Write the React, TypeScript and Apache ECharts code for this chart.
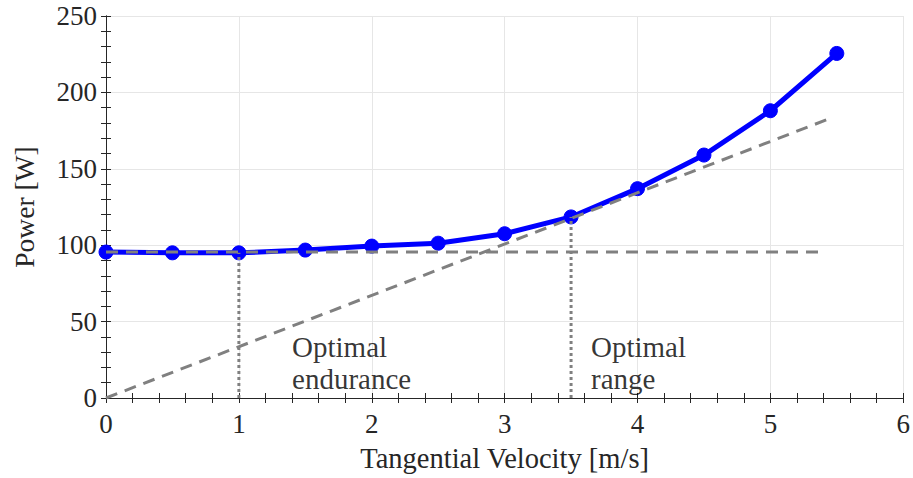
import React, { useEffect, useRef } from "react";
import * as echarts from "echarts";

const velocity = [0, 0.5, 1, 1.5, 2, 2.5, 3, 3.5, 4, 4.5, 5, 5.5];
const power = [95.5, 95, 95, 96.8, 99.4, 101.3, 107.5, 118.5, 137, 159, 188, 225.5];
const hoverLine = [[0, 95.5], [5.4, 95.5]];
const tangentLine = [[0, 0], [5.45, 183]];
const enduranceLine = [[1, 0], [1, 95]];
const rangeLine = [[3.5, 0], [3.5, 118.5]];
const annotations = [
  { pos: [1.4, 23], text: "Optimal\nendurance" },
  { pos: [3.65, 23], text: "Optimal\nrange" },
];

const FONT = "Liberation Serif";
const AXIS_COLOR = "#262626";

export default function App() {
  const ref = useRef<HTMLDivElement>(null);
  useEffect(() => {
    const chart = echarts.init(ref.current!, null, { renderer: "svg" });
    const axisCommon = {
      axisLine: { show: true, lineStyle: { color: AXIS_COLOR, width: 1 } },
      axisTick: { show: true, inside: true, length: 5, lineStyle: { color: AXIS_COLOR } },
      minorTick: { show: true, splitNumber: 5, length: 5, lineStyle: { color: AXIS_COLOR } },
    };
    chart.setOption({
      animation: false,
      backgroundColor: "#ffffff",
      grid: { left: 106, right: 9, top: 16, bottom: 77, containLabel: false },
      xAxis: [
        {
          type: "value",
          min: 0,
          max: 6,
          interval: 1,
          name: "Tangential Velocity [m/s]",
          nameLocation: "middle",
          nameGap: 46,
          nameTextStyle: { fontFamily: FONT, fontSize: 28.5, color: "#262626" },
          axisLabel: { fontFamily: FONT, fontSize: 27, color: "#262626", margin: 12 },
          splitLine: { show: true, lineStyle: { color: "#e6e6e6" } },
          ...axisCommon,
        },
        {
          type: "value",
          position: "top",
          min: 0,
          max: 6,
          interval: 1,
          axisLabel: { show: false },
          splitLine: { show: false },
          ...axisCommon,
        },
      ],
      yAxis: [
        {
          type: "value",
          min: 0,
          max: 250,
          interval: 50,
          name: "Power [W]",
          nameLocation: "middle",
          nameGap: 68,
          nameTextStyle: { fontFamily: FONT, fontSize: 27.5, color: "#262626" },
          axisLabel: { fontFamily: FONT, fontSize: 27, color: "#262626", margin: 9 },
          splitLine: { show: true, lineStyle: { color: "#e6e6e6" } },
          ...axisCommon,
        },
        {
          type: "value",
          position: "right",
          min: 0,
          max: 250,
          interval: 50,
          axisLabel: { show: false },
          splitLine: { show: false },
          ...axisCommon,
        },
      ],
      series: [
        {
          type: "line",
          data: velocity.map((v, i) => [v, power[i]]),
          lineStyle: { color: "#0000ff", width: 5 },
          itemStyle: { color: "#0000ff", borderColor: "#0000ff", borderWidth: 1 },
          symbol: "circle",
          symbolSize: 14,
          showSymbol: true,
          z: 2,
        },
        {
          type: "line",
          data: hoverLine,
          showSymbol: false,
          symbol: "none",
          lineStyle: { color: "#808080", width: 3, type: [12, 8] },
          z: 3,
        },
        {
          type: "line",
          data: tangentLine,
          showSymbol: false,
          symbol: "none",
          lineStyle: { color: "#808080", width: 3, type: [12, 8] },
          z: 3,
        },
        {
          type: "line",
          data: enduranceLine,
          showSymbol: false,
          symbol: "none",
          lineStyle: { color: "#808080", width: 3, type: [3, 3] },
          z: 3,
        },
        {
          type: "line",
          data: rangeLine,
          showSymbol: false,
          symbol: "none",
          lineStyle: { color: "#808080", width: 3, type: [3, 3] },
          z: 3,
        },
        {
          type: "scatter",
          data: annotations.map((a) => ({ value: a.pos, text: a.text })),
          symbolSize: 0,
          silent: true,
          label: {
            show: true,
            position: "right",
            distance: 0,
            formatter: (p: any) => p.data.text,
            fontFamily: FONT,
            fontSize: 29,
            lineHeight: 32,
            color: "#000000",
            align: "left",
          },
          z: 4,
        },
      ],
    });
    return () => chart.dispose();
  }, []);
  return (
    <div
      ref={ref}
      style={{ position: "fixed", left: 0, top: 0, width: 913, height: 478 }}
    />
  );
}
